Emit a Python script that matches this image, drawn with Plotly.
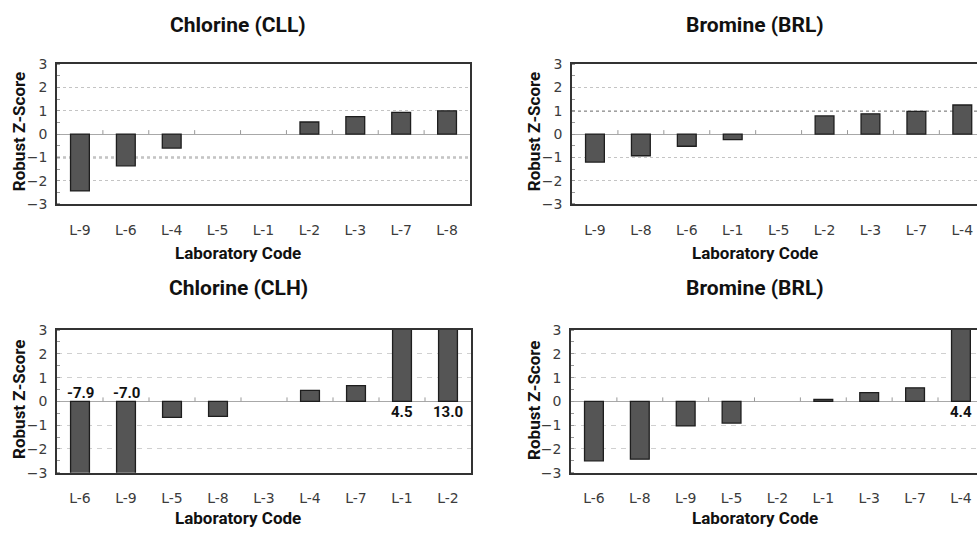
import plotly.graph_objects as go

# ---------------- data ----------------
cll_labs = ["L-9", "L-6", "L-4", "L-5", "L-1", "L-2", "L-3", "L-7", "L-8"]
cll_z = [-2.44, -1.36, -0.60, 0.0, 0.0, 0.52, 0.75, 0.93, 1.00]

brl_a_labs = ["L-9", "L-8", "L-6", "L-1", "L-5", "L-2", "L-3", "L-7", "L-4"]
brl_a_z = [-1.20, -0.93, -0.52, -0.24, 0.0, 0.78, 0.87, 0.98, 1.25]

clh_labs = ["L-6", "L-9", "L-5", "L-8", "L-3", "L-4", "L-7", "L-1", "L-2"]
clh_z = [-7.9, -7.0, -0.67, -0.63, 0.0, 0.46, 0.66, 4.5, 13.0]

brl_b_labs = ["L-6", "L-8", "L-9", "L-5", "L-2", "L-1", "L-3", "L-7", "L-4"]
brl_b_z = [-2.50, -2.43, -1.03, -0.91, 0.0, 0.08, 0.37, 0.57, 4.4]

titles = ["Chlorine (CLL)", "Bromine (BRL)", "Chlorine (CLH)", "Bromine (BRL)"]
x_title = "Laboratory Code"
y_title = "Robust Z-Score"
y_ticks = [-3, -2, -1, 0, 1, 2, 3]

# ---------------- layout helpers ----------------
W, H = 977, 536
panels = [
    dict(labs=cll_labs, z=cll_z, x0=57, x1=470, yt=58, yb=202, xr=[-0.5, 8.5],
         griddash="dot", dark=-1, mirror=True),
    dict(labs=brl_a_labs, z=brl_a_z, x0=572, x1=977, yt=58, yb=202, xr=[-0.5, 8.32],
         griddash="dot", dark=1, mirror=False),
    dict(labs=clh_labs, z=clh_z, x0=57, x1=471, yt=332, yb=479, xr=[-0.5, 8.5],
         griddash="5px,5px", dark=None, mirror=True),
    dict(labs=brl_b_labs, z=brl_b_z, x0=571, x1=977, yt=332, yb=479, xr=[-0.5, 8.35],
         griddash="5px,5px", dark=None, mirror=False),
]
title_pos = [(238, 18), (755, 18), (238, 289), (755, 289)]
xt_pos = [(238, 253), (755, 253), (238, 526), (755, 526)]
yt_pos = [(19, 128), (534, 128), (19, 404), (534, 405)]

TICK_FONT = dict(family="DejaVu Sans, sans-serif", size=14, color="#3c3c3c")
BOLD = "Roboto, Liberation Sans, sans-serif"

fig = go.Figure()
shapes = []
annotations = []
layout_axes = {}

for i, p in enumerate(panels):
    n = i + 1
    xa = "x" if n == 1 else f"x{n}"
    ya = "y" if n == 1 else f"y{n}"
    fig.add_trace(go.Bar(
        x=p["labs"], y=p["z"], xaxis=xa, yaxis=ya,
        marker=dict(color="#555555",
                    line=dict(color="#1e1e1e", width=[0 if v == 0 else 1.3 for v in p["z"]])),
        showlegend=False, hoverinfo="x+y",
    ))
    grid_color = "#c4c4c4" if p["griddash"] == "dot" else "#d0d0d0"
    layout_axes[f"xaxis{'' if n == 1 else n}"] = dict(
        domain=[p["x0"] / W, p["x1"] / W], anchor=ya, type="category",
        categoryorder="array", categoryarray=p["labs"], range=p["xr"],
        showgrid=False, showline=True, linecolor="#333333", linewidth=1.5, mirror=True,
        ticks="outside", ticklen=12, tickcolor="rgba(0,0,0,0)",
        tickfont=TICK_FONT, fixedrange=True,
    )
    layout_axes[f"yaxis{'' if n == 1 else n}"] = dict(
        domain=[1 - p["yb"] / H, 1 - p["yt"] / H], anchor=xa, range=[-3, 3],
        tickvals=y_ticks, showgrid=True, gridcolor=grid_color, griddash=p["griddash"],
        gridwidth=1, zeroline=True, zerolinecolor="#a8a8a8", zerolinewidth=1,
        showline=True, linecolor="#333333", linewidth=1.5, mirror=p["mirror"],
        ticks="outside", ticklen=5, tickcolor="rgba(0,0,0,0)", tickfont=TICK_FONT,
        minor=dict(dtick=0.5, tick0=0, ticks="inside", ticklen=3, tickcolor="#999999",
                   showgrid=False),
        fixedrange=True,
    )
    if p["dark"] is not None:
        shapes.append(dict(type="line", xref=f"{xa} domain", yref=ya, x0=0, x1=1,
                           y0=p["dark"], y1=p["dark"], layer="below",
                           line=dict(color="#444444", width=1.5, dash="dot")))
    for k in range(len(p["labs"]) - 1):
        shapes.append(dict(type="line", xref=xa, yref=ya, x0=k + 0.5, x1=k + 0.5,
                           ysizemode="pixel", yanchor=0, y0=0, y1=4,
                           line=dict(color="#999999", width=1)))
    for lab, v in zip(p["labs"], p["z"]):
        if abs(v) > 3:
            above = v < 0
            annotations.append(dict(
                x=lab, y=0, xref=xa, yref=ya, text=f"{v:.1f}", showarrow=False,
                yanchor="bottom" if above else "top", yshift=-3 if above else 0,
                font=dict(family=BOLD, size=15, color="#111111", weight="bold"),
            ))
    tx, ty = title_pos[i]
    annotations.append(dict(x=tx / W, y=1 - ty / H, xref="paper", yref="paper",
                            text=titles[i], showarrow=False, xanchor="center", yanchor="middle",
                            font=dict(family=BOLD, size=21, color="#111111", weight="bold")))
    tx, ty = xt_pos[i]
    annotations.append(dict(x=tx / W, y=1 - ty / H, xref="paper", yref="paper",
                            text=x_title, showarrow=False, xanchor="center", yanchor="middle",
                            font=dict(family=BOLD, size=17, color="#111111", weight="bold")))
    tx, ty = yt_pos[i]
    annotations.append(dict(x=tx / W, y=1 - ty / H, xref="paper", yref="paper",
                            text=y_title, showarrow=False, xanchor="center", yanchor="middle",
                            textangle=-90,
                            font=dict(family=BOLD, size=17, color="#111111", weight="bold")))

fig.update_layout(
    width=W, height=H, margin=dict(l=0, r=0, t=0, b=0),
    paper_bgcolor="white", plot_bgcolor="rgba(0,0,0,0)",
    bargap=0.59, shapes=shapes, annotations=annotations, showlegend=False,
    **layout_axes,
)

fig.write_html("out.html", config={"displayModeBar": False},
               post_script="document.body.style.margin='0';document.body.style.overflow='hidden';")
